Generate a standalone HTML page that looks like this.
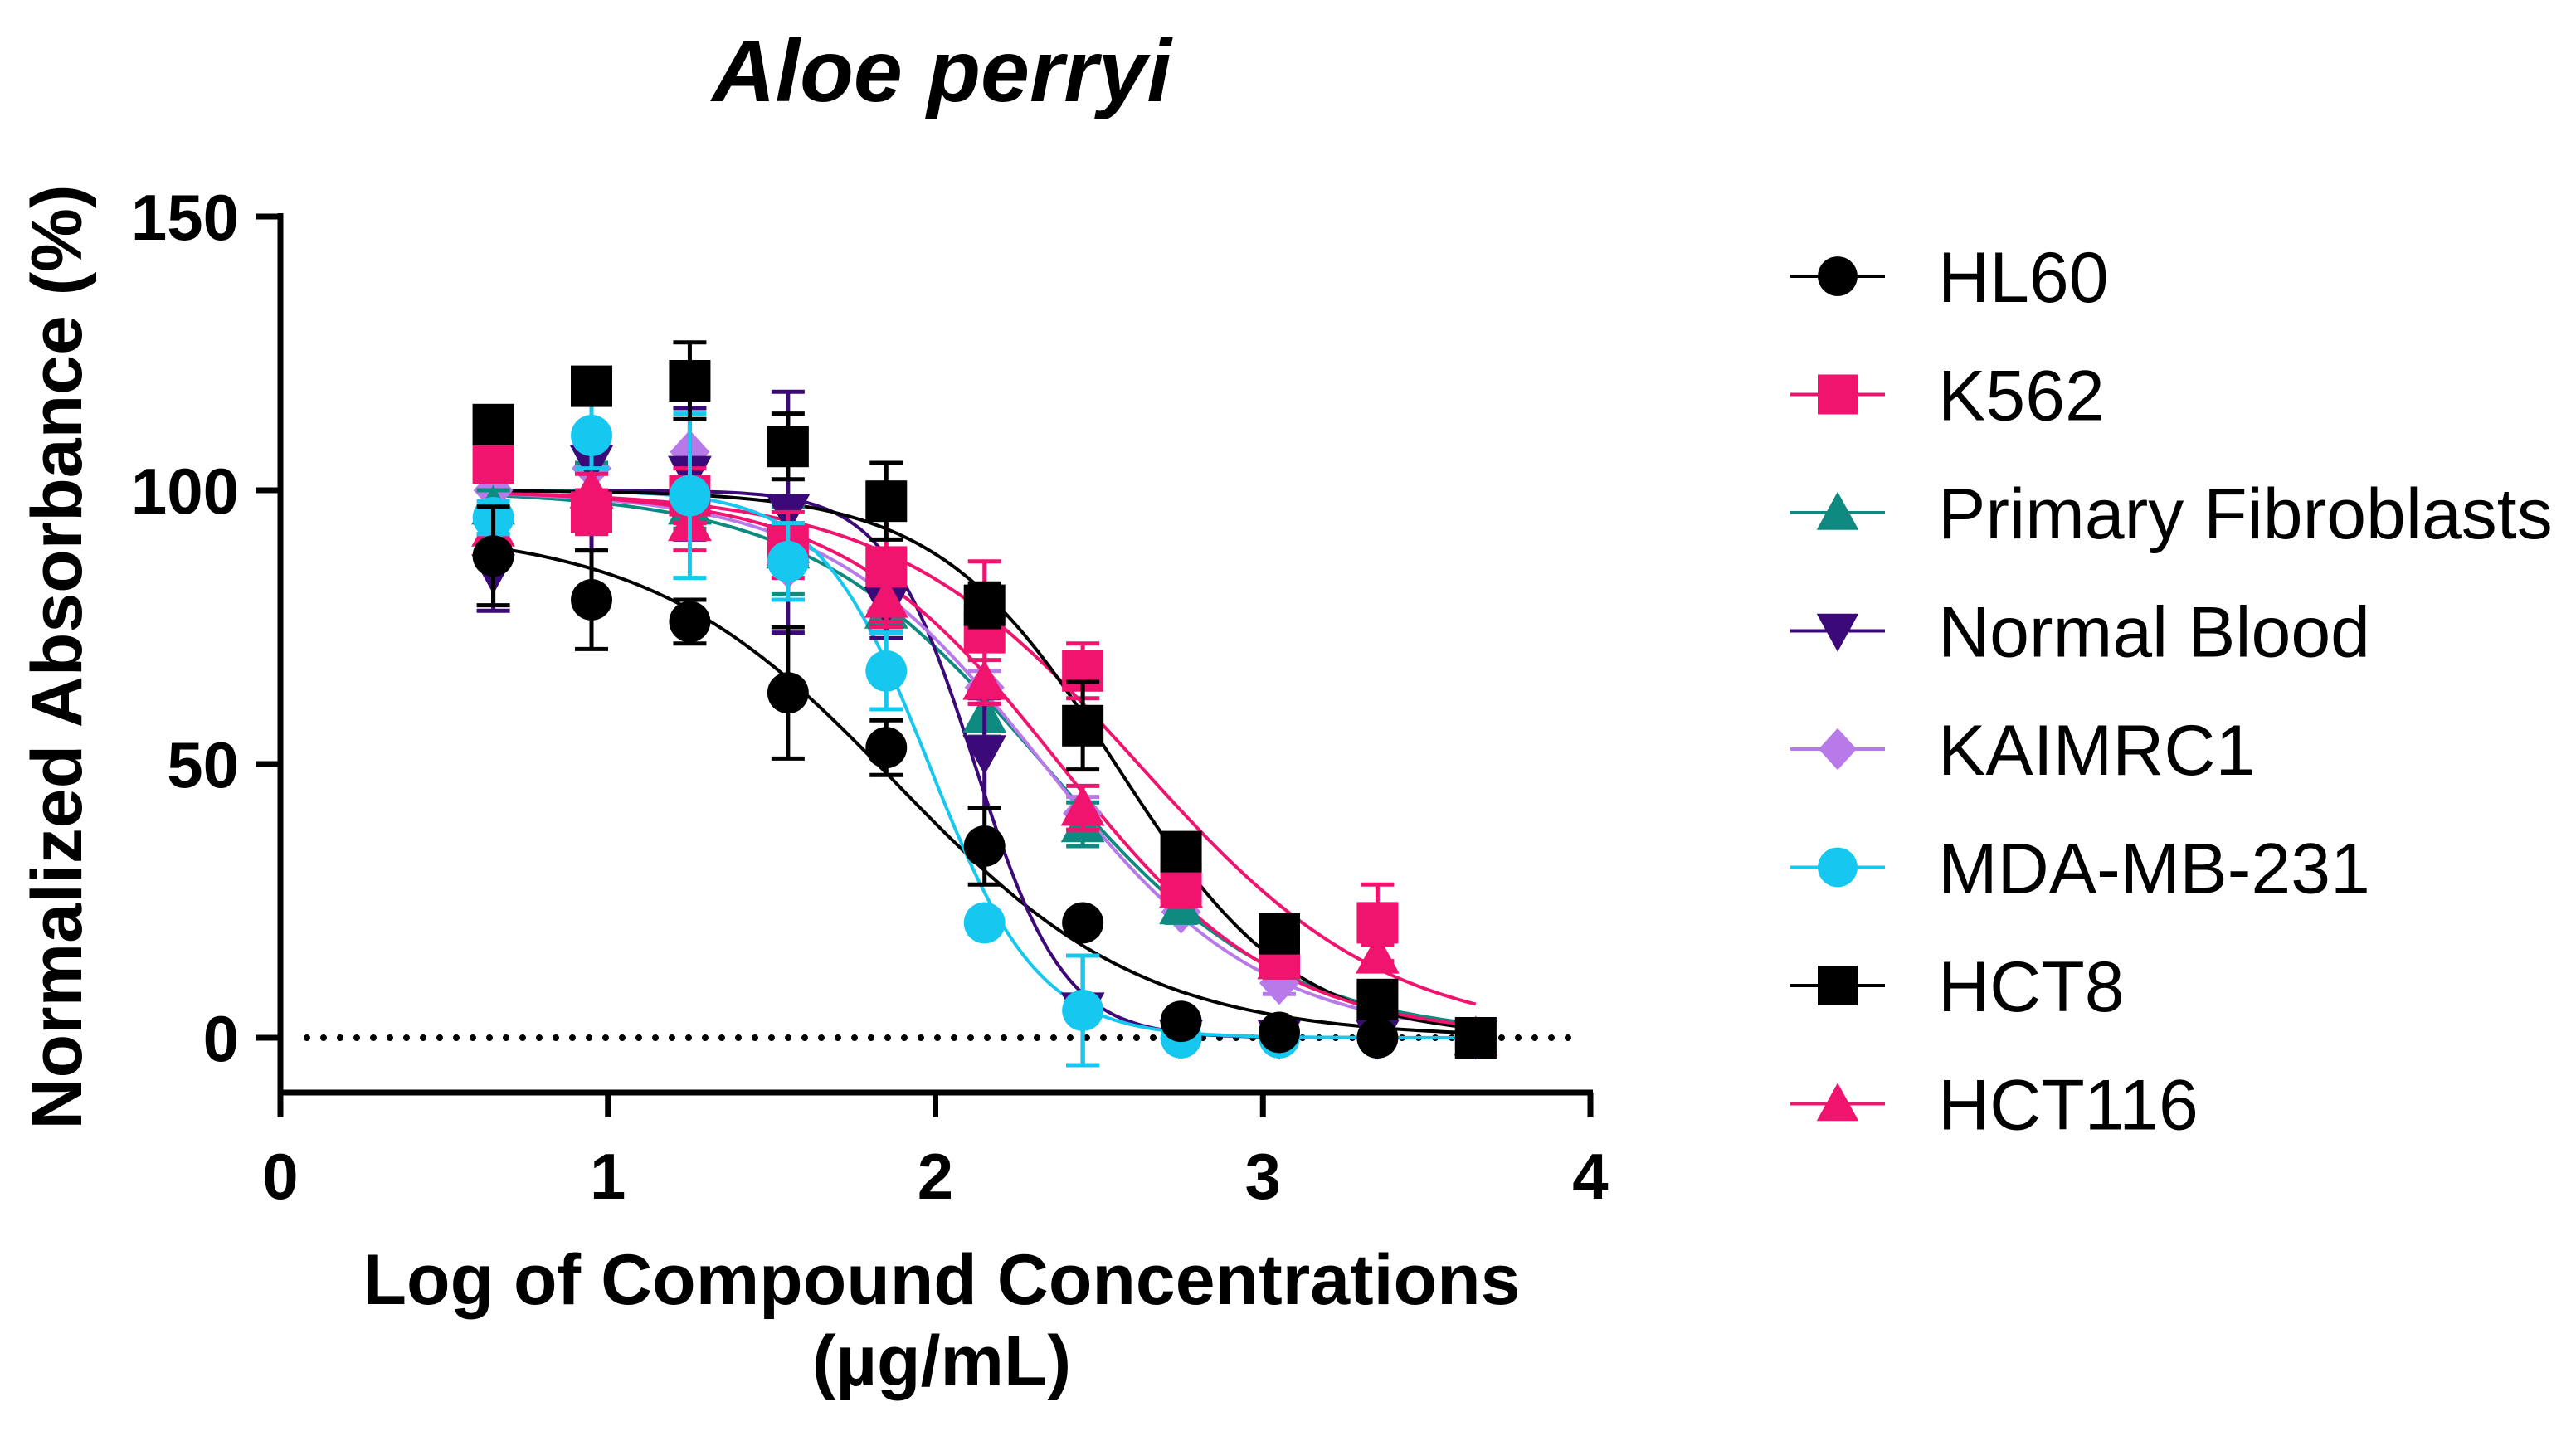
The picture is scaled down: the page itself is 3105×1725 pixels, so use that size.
<!DOCTYPE html>
<html><head><meta charset="utf-8"><style>
html,body{margin:0;padding:0;background:#fff;}
svg{display:block;font-family:"Liberation Sans",Arial,sans-serif;}
</style></head><body>
<svg id="chart" width="3105" height="1725" viewBox="0 0 3105 1725" xmlns="http://www.w3.org/2000/svg">
<text x="1135" y="122" font-size="106" font-weight="bold" font-style="italic" text-anchor="middle">Aloe perryi</text>
<text transform="translate(98,792) rotate(-90)" font-size="86" font-weight="bold" text-anchor="middle">Normalized Absorbance (%)</text>
<text x="1135" y="1572" font-size="86" font-weight="bold" text-anchor="middle">Log of Compound Concentrations</text>
<text x="1135" y="1670" font-size="86" font-weight="bold" text-anchor="middle">(µg/mL)</text>
<g id="axes"></g>
<g id="curves"></g>
<g id="points"></g>
<g id="legend"></g>
</svg>
<script>
const xTicks=[0,1,2,3,4];
const yTicks=[0,50,100,150];
const seriesNames=["HL60","K562","Primary Fibroblasts","Normal Blood","KAIMRC1","MDA-MB-231","HCT8","HCT116"];
const seriesColors=["#000000","#f0146e","#0f8a80","#3c0a78","#b87ae8","#16c8f0","#000000","#f0146e"];
const seriesShapes=["circle","square","triangle","tridown","diamond","circle","square","triangle"];
const logConc=[0.65,0.95,1.25,1.55,1.85,2.15,2.45,2.75,3.05,3.35,3.65];
const hl60=[88,80,76,63,53,35,21,3,1,0,0];
const k562=[105,96,99,90,86,74,67,28,15,21,0];
const fibro=[97,100,97,89,78,59,39,24,14,3,0];
const blood=[85,105,103,96,79,52,5,0,0,0,0];
const kaimrc1=[100,104,107,86,78,64,41,23,10,3,0];
const mda=[95,110,99,87,67,21,5,0,0,0,0];
const hct8=[112,119,120,108,98,79,57,34,19,7,0];
const hct116=[93,100,94,90,80,65,42,27,14,15,0];
const hl60Err=[9,9,4,12,5,7,2,1,1,0,0];
const k562Err=[3,4,5,6,11,13,5,3,3,7,0];
const fibroErr=[3,5,4,8,4,4,4,3,3,1,0];
const bloodErr=[7,16,12,22,6,10,10,0,0,0,0];
const kaimrc1Err=[3,4,6,6,4,3,3,2,2,1,0];
const mdaErr=[3,6,15,7,7,2,10,0,0,0,0];
const hct8Err=[3,3,7,6,7,4,8,3,3,2,0];
const hct116Err=[2,3,5,4,4,4,4,3,3,2,0];
const seriesData=[hl60,k562,fibro,blood,kaimrc1,mda,hct8,hct116];
const seriesErr=[hl60Err,k562Err,fibroErr,bloodErr,kaimrc1Err,mdaErr,hct8Err,hct116Err];
// fitted 4PL parameters: top, logIC50, hill
const fitTop=[93,100,100,100,100,100,100,100];
const fitIC50=[1.88,2.62,2.33,2.12,2.33,1.98,2.55,2.38];
const fitHill=[1.15,1.15,1.2,3.2,1.3,2.6,1.6,1.3];

const NS="http://www.w3.org/2000/svg";
const X0=338,X1=1917,Y0=1251,Y150=261,AXY=1317;
function sx(v){return X0+(X1-X0)*v/4;}
function sy(v){return Y0-(Y0-Y150)*v/150;}
function mk(tag,attrs,parent){const e=document.createElementNS(NS,tag);for(const k in attrs)e.setAttribute(k,attrs[k]);parent.appendChild(e);return e;}
const axes=document.getElementById('axes');
let e;
e=mk('line',{x1:X0,y1:Y150-4,x2:X0,y2:AXY+3,stroke:'#000','stroke-width':7},axes);


e=mk('line',{x1:X0-3,y1:AXY,x2:X1+3,y2:AXY,stroke:'#000','stroke-width':7},axes);


e=mk('line',{x1:370,y1:Y0,x2:1900,y2:Y0,stroke:'#000','stroke-width':8,'stroke-dasharray':'0 20','stroke-linecap':'round'},axes);


yTicks.forEach(t=>{
 e=mk('line',{x1:X0-30,y1:sy(t),x2:X0,y2:sy(t),stroke:'#000','stroke-width':7},axes);
 
 
 e=mk('text',{x:X0-50,y:sy(t)+28,'font-size':78,'font-weight':'bold','text-anchor':'end'},axes);
 e.textContent=t;
 
 
});
xTicks.forEach(t=>{
 e=mk('line',{x1:sx(t),y1:AXY,x2:sx(t),y2:AXY+30,stroke:'#000','stroke-width':7},axes);
 
 
 e=mk('text',{x:sx(t),y:AXY+128,'font-size':78,'font-weight':'bold','text-anchor':'middle'},axes);
 e.textContent=t;
 
 
});
const curves=document.getElementById('curves');
seriesNames.forEach((n,i)=>{
 let d='';
 for(let k=0;k<=150;k++){const x=logConc[0]+(logConc[logConc.length-1]-logConc[0])*k/150;
  const y=fitTop[i]/(1+Math.pow(10,(x-fitIC50[i])*fitHill[i]));
  d+=(k?'L':'M')+sx(x).toFixed(1)+' '+sy(y).toFixed(1);}
 e=mk('path',{d:d,fill:'none',stroke:seriesColors[i],'stroke-width':4},curves);
 
 
});
function marker(shape,cx,cy,s,color,parent){
 if(shape==='circle')return mk('circle',{cx:cx,cy:cy,r:s*0.52,fill:color},parent);
 if(shape==='square')return mk('rect',{x:cx-s/2,y:cy-s/2,width:s,height:s,fill:color},parent);
 if(shape==='triangle')return mk('polygon',{points:`${cx},${cy-s*0.55} ${cx+s*0.55},${cy+s*0.45} ${cx-s*0.55},${cy+s*0.45}`,fill:color},parent);
 if(shape==='tridown')return mk('polygon',{points:`${cx},${cy+s*0.55} ${cx+s*0.55},${cy-s*0.45} ${cx-s*0.55},${cy-s*0.45}`,fill:color},parent);
 return mk('polygon',{points:`${cx},${cy-s*0.55} ${cx+s*0.5},${cy} ${cx},${cy+s*0.55} ${cx-s*0.5},${cy}`,fill:color},parent);
}
const pts=document.getElementById('points');
const drawOrder=[4,2,3,7,1,5,0,6];
drawOrder.forEach(i=>{
 const g=mk('g',{},pts);
 
 
 seriesData[i].forEach((v,j)=>{
  const cx=sx(logConc[j]),cy=sy(v),er=seriesErr[i][j];
  if(er>0){
   const eb=mk('path',{d:`M${cx} ${sy(v-er)}L${cx} ${sy(v+er)}M${cx-20} ${sy(v+er)}L${cx+20} ${sy(v+er)}M${cx-20} ${sy(v-er)}L${cx+20} ${sy(v-er)}`,stroke:seriesColors[i],'stroke-width':5,fill:'none'},g);
   
   
  }
  const m=marker(seriesShapes[i],cx,cy,seriesShapes[i]==='square'?50:48,seriesColors[i],g);
  
  
 });
});
const leg=document.getElementById('legend');
seriesNames.forEach((n,i)=>{
 const y=333+142.5*i;
 const g=mk('g',{},leg);
 
 
 mk('line',{x1:2158,y1:y,x2:2272,y2:y,stroke:seriesColors[i],'stroke-width':4},g);
 marker(seriesShapes[i],2215,y,seriesShapes[i]==='square'?48:46,seriesColors[i],g);
 const t=mk('text',{x:2336,y:y+31,'font-size':86},g);
 t.textContent=n;
});
</script>
</body></html>
